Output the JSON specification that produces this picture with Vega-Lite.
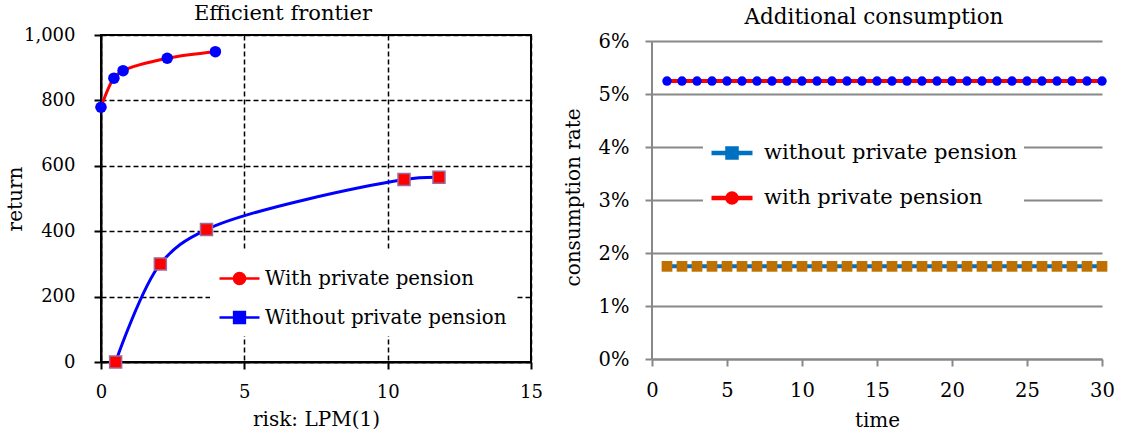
{
  "$schema": "https://vega.github.io/schema/vega-lite/v6.json",
  "background": "white",
  "padding": {"left": 4, "top": 2, "right": 3, "bottom": 5},
  "spacing": 19,
  "config": {
    "font": "DejaVu Serif",
    "axis": {"labelFont": "DejaVu Serif", "titleFont": "DejaVu Serif", "labelColor": "black", "titleColor": "black", "titleFontWeight": "normal", "labelFlush": false},
    "title": {"font": "DejaVu Serif", "fontWeight": "normal", "color": "black"},
    "legend": {"labelFont": "DejaVu Serif", "labelColor": "black", "labelLimit": 500}
  },
  "datasets": {
    "ef": [
      {"series": "With private pension", "risk": 0, "ret": 779},
      {"series": "With private pension", "risk": 0.45, "ret": 868},
      {"series": "With private pension", "risk": 0.77, "ret": 891},
      {"series": "With private pension", "risk": 2.31, "ret": 929},
      {"series": "With private pension", "risk": 3.99, "ret": 949},
      {"series": "Without private pension", "risk": 0.51, "ret": 0},
      {"series": "Without private pension", "risk": 2.07, "ret": 300},
      {"series": "Without private pension", "risk": 3.68, "ret": 405},
      {"series": "Without private pension", "risk": 10.57, "ret": 558},
      {"series": "Without private pension", "risk": 11.79, "ret": 565}
    ],
    "cons": [
      {"s": "with private pension", "t": 1, "rate": 0.0525}, {"s": "with private pension", "t": 2, "rate": 0.0525}, {"s": "with private pension", "t": 3, "rate": 0.0525}, {"s": "with private pension", "t": 4, "rate": 0.0525}, {"s": "with private pension", "t": 5, "rate": 0.0525},
      {"s": "with private pension", "t": 6, "rate": 0.0525}, {"s": "with private pension", "t": 7, "rate": 0.0525}, {"s": "with private pension", "t": 8, "rate": 0.0525}, {"s": "with private pension", "t": 9, "rate": 0.0525}, {"s": "with private pension", "t": 10, "rate": 0.0525},
      {"s": "with private pension", "t": 11, "rate": 0.0525}, {"s": "with private pension", "t": 12, "rate": 0.0525}, {"s": "with private pension", "t": 13, "rate": 0.0525}, {"s": "with private pension", "t": 14, "rate": 0.0525}, {"s": "with private pension", "t": 15, "rate": 0.0525},
      {"s": "with private pension", "t": 16, "rate": 0.0525}, {"s": "with private pension", "t": 17, "rate": 0.0525}, {"s": "with private pension", "t": 18, "rate": 0.0525}, {"s": "with private pension", "t": 19, "rate": 0.0525}, {"s": "with private pension", "t": 20, "rate": 0.0525},
      {"s": "with private pension", "t": 21, "rate": 0.0525}, {"s": "with private pension", "t": 22, "rate": 0.0525}, {"s": "with private pension", "t": 23, "rate": 0.0525}, {"s": "with private pension", "t": 24, "rate": 0.0525}, {"s": "with private pension", "t": 25, "rate": 0.0525},
      {"s": "with private pension", "t": 26, "rate": 0.0525}, {"s": "with private pension", "t": 27, "rate": 0.0525}, {"s": "with private pension", "t": 28, "rate": 0.0525}, {"s": "with private pension", "t": 29, "rate": 0.0525}, {"s": "with private pension", "t": 30, "rate": 0.0525},
      {"s": "without private pension", "t": 1, "rate": 0.0175}, {"s": "without private pension", "t": 2, "rate": 0.0175}, {"s": "without private pension", "t": 3, "rate": 0.0175}, {"s": "without private pension", "t": 4, "rate": 0.0175}, {"s": "without private pension", "t": 5, "rate": 0.0175},
      {"s": "without private pension", "t": 6, "rate": 0.0175}, {"s": "without private pension", "t": 7, "rate": 0.0175}, {"s": "without private pension", "t": 8, "rate": 0.0175}, {"s": "without private pension", "t": 9, "rate": 0.0175}, {"s": "without private pension", "t": 10, "rate": 0.0175},
      {"s": "without private pension", "t": 11, "rate": 0.0175}, {"s": "without private pension", "t": 12, "rate": 0.0175}, {"s": "without private pension", "t": 13, "rate": 0.0175}, {"s": "without private pension", "t": 14, "rate": 0.0175}, {"s": "without private pension", "t": 15, "rate": 0.0175},
      {"s": "without private pension", "t": 16, "rate": 0.0175}, {"s": "without private pension", "t": 17, "rate": 0.0175}, {"s": "without private pension", "t": 18, "rate": 0.0175}, {"s": "without private pension", "t": 19, "rate": 0.0175}, {"s": "without private pension", "t": 20, "rate": 0.0175},
      {"s": "without private pension", "t": 21, "rate": 0.0175}, {"s": "without private pension", "t": 22, "rate": 0.0175}, {"s": "without private pension", "t": 23, "rate": 0.0175}, {"s": "without private pension", "t": 24, "rate": 0.0175}, {"s": "without private pension", "t": 25, "rate": 0.0175},
      {"s": "without private pension", "t": 26, "rate": 0.0175}, {"s": "without private pension", "t": 27, "rate": 0.0175}, {"s": "without private pension", "t": 28, "rate": 0.0175}, {"s": "without private pension", "t": 29, "rate": 0.0175}, {"s": "without private pension", "t": 30, "rate": 0.0175}
    ],
    "yaxis": [{"t": 0, "lo": 0, "hi": 0.06}]
  },
  "resolve": {"scale": {"stroke": "independent", "fill": "independent", "shape": "independent"}, "legend": {"stroke": "independent", "fill": "independent", "shape": "independent"}},
  "hconcat": [
    {
      "width": 430,
      "height": 327,
      "view": {"stroke": "black", "strokeWidth": 2},
      "title": {"text": "Efficient frontier", "fontSize": 21, "offset": 2, "frame": "group", "anchor": "middle", "dx": -33},
      "data": {"name": "ef"},
      "encoding": {
        "x": {"field": "risk", "type": "quantitative", "scale": {"domain": [0, 15], "nice": false},
          "axis": {"values": [0, 5, 10, 15], "grid": true, "gridColor": "black", "gridDash": [5, 3], "gridWidth": 1.5,
            "domainColor": "black", "domainWidth": 2, "tickColor": "black", "tickWidth": 2, "tickSize": 7,
            "labelFont": "DejaVu Serif", "labelFontSize": 18, "labelPadding": 14, "labelFlush": false, "title": "risk: LPM(1)", "titleFontSize": 20, "titlePadding": 8}},
        "y": {"field": "ret", "type": "quantitative", "scale": {"domain": [0, 1000], "nice": false},
          "axis": {"values": [0, 200, 400, 600, 800, 1000], "format": ",.0f", "grid": true, "gridColor": "black", "gridDash": [5, 3], "gridWidth": 1.5,
            "domainColor": "black", "domainWidth": 2, "tickColor": "black", "tickWidth": 2, "tickSize": 7,
            "labelFont": "DejaVu Serif", "labelFontSize": 18, "labelPadding": 19, "title": "return", "titleFontSize": 20, "titlePadding": -2}}
      },
      "layer": [
        {
          "mark": {"type": "line", "interpolate": "catmull-rom", "strokeWidth": 3},
          "encoding": {
            "stroke": {"field": "series", "type": "nominal",
              "scale": {"domain": ["With private pension", "Without private pension"], "range": ["#FF0000", "#0000FF"]},
              "legend": {"title": null, "orient": "none", "legendX": 109, "legendY": 214, "fillColor": "white", "padding": 8,
                "symbolSize": 1600, "labelFontSize": 19.8, "labelOffset": 4, "rowPadding": 6, "symbolStrokeWidth": 2.5, "symbolOpacity": 1}}
          }
        },
        {
          "transform": [{"filter": "datum.series === 'With private pension'"}],
          "mark": {"type": "circle", "size": 133, "fill": "#0000FF", "opacity": 1}
        },
        {
          "transform": [{"filter": "datum.series === 'Without private pension'"}],
          "mark": {"type": "square", "size": 144, "fill": "#FF0000", "stroke": "#9B6B9B", "strokeWidth": 1.5, "opacity": 1}
        },
        {
          "transform": [{"filter": "datum.series === 'none'"}],
          "mark": {"type": "point", "filled": true, "opacity": 1},
          "encoding": {
            "fill": {"field": "series", "type": "nominal",
              "scale": {"domain": ["With private pension", "Without private pension"], "range": ["#FF0000", "#0000FF"]},
              "legend": {"title": null, "orient": "none", "legendX": 109, "legendY": 214, "fillColor": "white", "padding": 8,
                "symbolSize": 1600, "labelFontSize": 19.8, "labelOffset": 4, "rowPadding": 6, "symbolStrokeWidth": 2.5, "symbolOpacity": 1}},
            "shape": {"field": "series", "type": "nominal",
              "scale": {"domain": ["With private pension", "Without private pension"],
                "range": ["M-1,0H1M0.28,0C0.28,0.1547,0.1547,0.28,0,0.28C-0.1547,0.28,-0.28,0.1547,-0.28,0C-0.28,-0.1547,-0.1547,-0.28,0,-0.28C0.1547,-0.28,0.28,-0.1547,0.28,0Z", "M-1,0H1M-0.27,-0.27H0.27V0.27H-0.27Z"]},
              "legend": {"title": null, "orient": "none", "legendX": 109, "legendY": 214, "fillColor": "white", "padding": 8,
                "symbolSize": 1600, "labelFontSize": 19.8, "labelOffset": 4, "rowPadding": 6, "symbolStrokeWidth": 2.5, "symbolOpacity": 1}}
          }
        }
      ]
    },
    {
      "width": 450,
      "height": 324,
      "view": {"stroke": null},
      "title": {"text": "Additional consumption", "fontSize": 21.5, "offset": 3, "frame": "group", "anchor": "middle", "dx": -3},
      "data": {"name": "cons"},
      "encoding": {
        "x": {"field": "t", "type": "quantitative", "scale": {"domain": [0, 30], "nice": false},
          "axis": {"values": [0, 5, 10, 15, 20, 25, 30], "grid": false,
            "domainColor": "#888888", "domainWidth": 2, "tickColor": "#888888", "tickWidth": 2, "tickSize": 7,
            "labelFont": "DejaVu Serif", "labelFontSize": 19.5, "labelPadding": 15, "labelFlush": false, "title": "time", "titleFontSize": 20, "titlePadding": 11}},
        "y": {"field": "rate", "type": "quantitative", "scale": {"domain": [0, 0.0612], "nice": false},
          "axis": {"values": [0, 0.01, 0.02, 0.03, 0.04, 0.05, 0.06], "format": ".0%", "grid": true, "gridColor": "#888888", "gridWidth": 2,
            "domain": false, "tickColor": "#888888", "tickWidth": 2, "tickSize": 7,
            "labelFont": "DejaVu Serif", "labelFontSize": 19.5, "labelPadding": 16, "title": "consumption rate", "titleFontSize": 20, "titlePadding": 15}}
      },
      "layer": [
        {
          "data": {"name": "yaxis"},
          "mark": {"type": "rule", "color": "#888888", "strokeWidth": 2},
          "encoding": {
            "y": {"field": "lo", "type": "quantitative"},
            "y2": {"field": "hi"}
          }
        },
        {
          "mark": {"type": "line", "strokeWidth": 4},
          "encoding": {
            "stroke": {"field": "s", "type": "nominal",
              "scale": {"domain": ["without private pension", "with private pension"], "range": ["#0070C0", "#FF0000"]},
              "legend": {"title": null, "orient": "none", "legendX": 51, "legendY": 89, "fillColor": "white", "padding": 6,
                "symbolSize": 1681, "labelFontSize": 21, "labelOffset": 9, "rowPadding": 8, "symbolStrokeWidth": 4.5, "symbolOpacity": 1}}
          }
        },
        {
          "transform": [{"filter": "datum.s === 'with private pension'"}],
          "mark": {"type": "circle", "size": 90, "fill": "#0000FF", "opacity": 1}
        },
        {
          "transform": [{"filter": "datum.s === 'without private pension'"}],
          "mark": {"type": "square", "size": 115, "fill": "#C07000", "opacity": 1}
        },
        {
          "transform": [{"filter": "datum.s === 'none'"}],
          "mark": {"type": "point", "filled": true, "opacity": 1},
          "encoding": {
            "fill": {"field": "s", "type": "nominal",
              "scale": {"domain": ["without private pension", "with private pension"], "range": ["#0070C0", "#FF0000"]},
              "legend": {"title": null, "orient": "none", "legendX": 51, "legendY": 89, "fillColor": "white", "padding": 6,
                "symbolSize": 1681, "labelFontSize": 21, "labelOffset": 9, "rowPadding": 8, "symbolStrokeWidth": 4.5, "symbolOpacity": 1}},
            "shape": {"field": "s", "type": "nominal",
              "scale": {"domain": ["without private pension", "with private pension"],
                "range": ["M-1,0H1M-0.22,-0.22H0.22V0.22H-0.22Z", "M-1,0H1M0.22,0C0.22,0.1215,0.1215,0.22,0,0.22C-0.1215,0.22,-0.22,0.1215,-0.22,0C-0.22,-0.1215,-0.1215,-0.22,0,-0.22C0.1215,-0.22,0.22,-0.1215,0.22,0Z"]},
              "legend": {"title": null, "orient": "none", "legendX": 51, "legendY": 89, "fillColor": "white", "padding": 6,
                "symbolSize": 1681, "labelFontSize": 21, "labelOffset": 9, "rowPadding": 8, "symbolStrokeWidth": 4.5, "symbolOpacity": 1}}
          }
        }
      ]
    }
  ]
}
